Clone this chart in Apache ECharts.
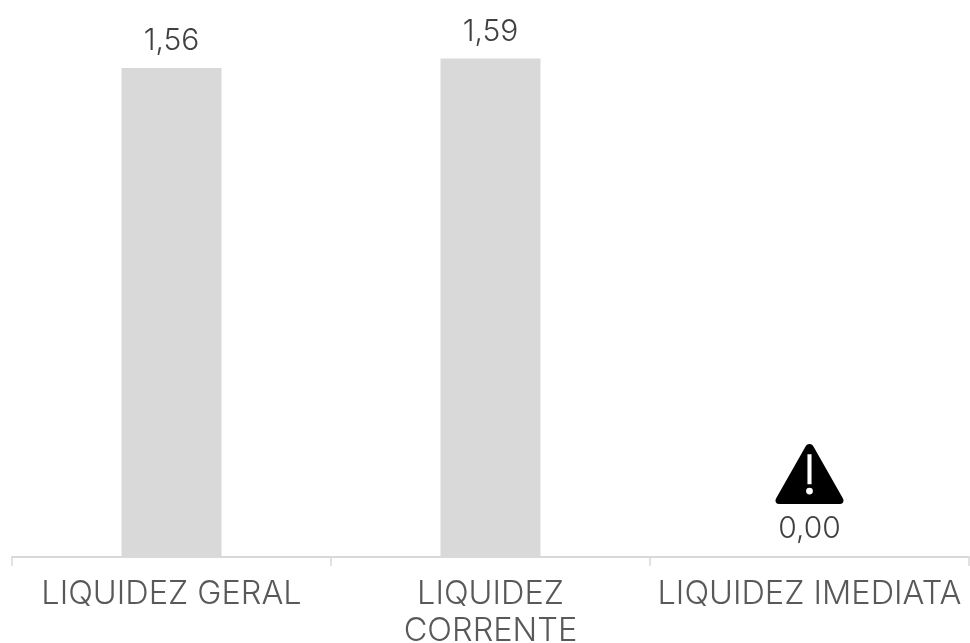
<!DOCTYPE html>
<html><head><meta charset="utf-8">
<style>html,body{margin:0;padding:0;background:#fff}#c{width:970px;height:643px}</style>
<script src="https://cdn.jsdelivr.net/npm/echarts@6/dist/echarts.min.js"></script>
</head><body><div id="c"></div>
<script>
const categories = ['LIQUIDEZ GERAL', 'LIQUIDEZ\nCORRENTE', 'LIQUIDEZ IMEDIATA'];
const values = [1.56, 1.59, 0.00];
const warningFlags = [null, null, 0];
const warningPath = 'path://M50 2C53 2 55 4 56 6L99 82C101 86 99 90 95 90L5 90C1 90 -1 86 1 82L44 6C45 4 47 2 50 2ZM47 17L47 61L53 61L53 17ZM50 66A5 5 0 1 0 50 76A5 5 0 1 0 50 66Z';
const font = 'Inter';
const chart = echarts.init(document.getElementById('c'), null, {renderer:'canvas'});
chart.setOption({
  animation:false,
  backgroundColor:'#fff',
  grid:{left:12,right:1,top:24,bottom:86,outerBoundsMode:'none'},
  xAxis:{type:'category',data:categories,
    axisLine:{lineStyle:{color:'#d9d9d9',width:2}},
    axisTick:{show:true,alignWithLabel:false,length:9,lineStyle:{color:'#d9d9d9',width:1.5}},
    axisLabel:{interval:0,color:'#595959',fontFamily:font,fontSize:32.5,fontWeight:300,lineHeight:37,margin:19}},
  yAxis:{type:'value',min:0,max:1.7,show:false,splitLine:{show:false}},
  series:[
    {type:'bar',data:values,barWidth:100,itemStyle:{color:'#d9d9d9'},barMinHeight:1,
     label:{show:true,position:'top',distance:12,color:'#404040',fontFamily:font,fontSize:30,fontWeight:300,
       formatter:p=>p.value.toFixed(2).replace('.',',')}},
    {type:'scatter',data:warningFlags,symbol:warningPath,symbolSize:[68,60],symbolOffset:[0,-83],
     itemStyle:{color:'#000',opacity:1},silent:true,z:5}
  ]
});
</script></body></html>
